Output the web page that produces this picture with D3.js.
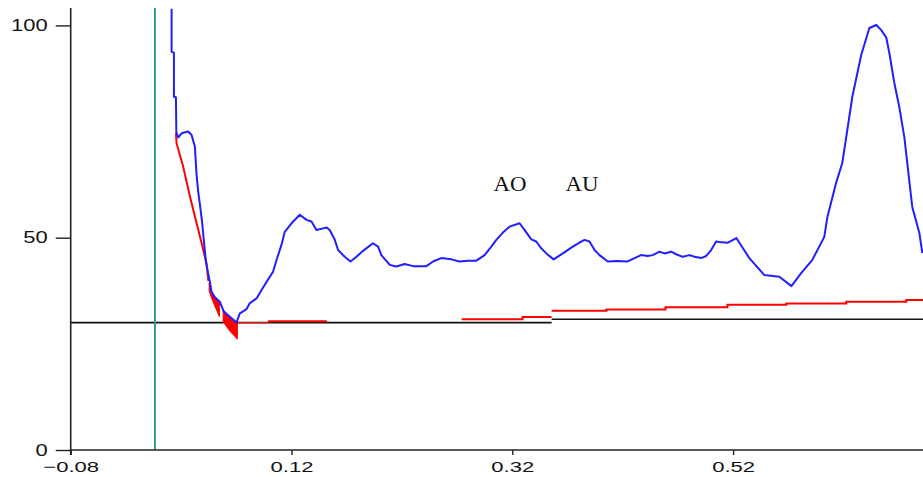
<!DOCTYPE html>
<html><head><meta charset="utf-8">
<script src="https://cdn.jsdelivr.net/npm/d3@7"></script>
<style>body{margin:0;background:#fff;} svg{display:block;}</style>
</head><body>
<svg id="chart" width="923" height="477"></svg>
<script>
// ---- data ----
const xTicks = [-0.08, 0.12, 0.32, 0.52];
const yTicks = [0, 50, 100];

const blueX = [0.0114,0.0114,0.0135,0.0135,0.0153,0.0157,0.0174,0.0205,0.0264,0.0295,
0.0325,0.0340,0.0355,0.0373,0.0390,0.0408,0.0424,0.0445,0.0461,0.0476,
0.0506,0.0551,0.0587,0.0641,0.0702,0.0732,0.0793,0.0823,0.0883,0.0929,
0.0974,0.1033,0.1070,0.1109,0.1139,0.1200,0.1275,0.1336,0.1381,0.1426,
0.1486,0.1519,0.1546,0.1592,0.1622,0.1682,0.1734,0.1788,0.1848,0.1938,
0.1984,0.2014,0.2090,0.2150,0.2225,0.2301,0.2422,0.2482,0.2557,0.2648,
0.2723,0.2798,0.2874,0.2949,0.3010,0.3055,0.3115,0.3175,0.3266,0.3312,
0.3372,0.3417,0.3462,0.3508,0.3574,0.3658,0.3748,0.3824,0.3854,0.3899,
0.3945,0.3990,0.4065,0.4141,0.4246,0.4307,0.4367,0.4427,0.4472,0.4533,
0.4578,0.4639,0.4684,0.4744,0.4805,0.4850,0.4910,0.4956,0.5001,0.5046,
0.5076,0.5149,0.5230,0.5257,0.5347,0.5483,0.5619,0.5728,0.5818,0.5918,
0.6026,0.6054,0.6135,0.6189,0.6280,0.6361,0.6434,0.6497,0.6542,0.6588,
0.6615,0.6660,0.6705,0.6751,0.6823,0.6887,0.6914];
const blueY = [103.9,93.8,93.6,83.2,83.1,74.8,73.6,74.6,75.0,74.2,
71.4,64.8,60.8,57.3,53.7,48.8,44.5,41.6,39.6,37.2,
36.0,34.9,32.6,31.4,30.0,32.2,33.2,34.6,35.7,37.7,
39.6,42.0,45.2,48.3,51.4,53.4,55.4,54.2,53.8,51.8,
52.2,52.4,51.8,49.5,47.1,45.5,44.4,45.5,46.9,48.7,
47.9,45.9,43.6,43.2,43.8,43.3,43.3,44.4,45.2,44.9,
44.4,44.6,44.6,45.9,47.9,49.5,51.2,52.6,53.4,51.8,
49.6,49.1,47.5,46.3,44.9,46.3,47.9,49.1,49.5,49.1,
47.1,45.9,44.4,44.5,44.4,45.2,45.9,45.7,45.9,46.7,
46.3,46.7,46.1,45.5,45.9,45.5,45.2,45.7,47.1,49.1,
49.0,48.8,49.9,48.8,45.2,41.2,40.8,38.6,41.7,44.8,
50.2,54.9,63.1,67.6,83.2,93.1,99.4,100.1,98.9,97.1,
93.5,86.5,80.8,73.7,57.2,51.1,46.4];

const redDiagX = [0.0153,0.0159,0.0219,0.0280,0.0325,0.0386,0.0429,0.0447];
const redDiagY = [74.6,72.2,66.7,59.7,55.0,48.7,44.1,39.8];

const fill1X = [0.0454,0.0476,0.0506,0.0547];
const fill1Top = [39.3,37.2,36.0,35.0];
const fill1Bottom = [37.5,35.8,33.9,31.4];
const fill2X = [0.0581,0.0642,0.0710];
const fill2Top = [33.0,31.4,30.0];
const fill2Bottom = [30.2,28.0,26.1];

const redFlatAX = [0.0717,0.0988], redFlatAY = [30.0,30.0];
const redFlatBX = [0.0988,0.1520], redFlatBY = [30.3,30.3];

const base1X = [-0.08,0.3556], base1Y = [30.0,30.0];
const base2X = [0.3556,0.692], base2Y = [30.8,30.8];

const redStep1X = [0.2741,0.3293,0.3556];
const redStep1Y = [30.8,31.3,31.3];
const redStep2X = [0.3556,0.4053,0.4587,0.5148,0.5682,0.6225,0.6768,0.692];
const redStep2Y = [32.8,33.1,33.6,34.2,34.5,34.9,35.3,35.3];

const markerX = [-0.0037];

const labelText = ["AO","AU"];
const labelX = [0.3030,0.3682];
const labelY = [61.0,61.0];

// ---- drawing ----
const svg = d3.select("#chart");
const x = d3.scaleLinear().domain([-0.08, 0.692]).range([70.7, 923]);
const y = d3.scaleLinear().domain([0, 104.1]).range([450, 8]);

svg.append("defs").append("clipPath").attr("id","clip")
  .append("rect").attr("x",70.7).attr("y",8).attr("width",923-70.7).attr("height",442);

const plot = svg.append("g").attr("clip-path","url(#clip)");
const zip = (xs, ys) => xs.map((v,i)=>[v, ys[i]]);
const line = d3.line().x(d=>x(d[0])).y(d=>y(d[1]));
const stepLine = d3.line().x(d=>x(d[0])).y(d=>y(d[1])).curve(d3.curveStepAfter);

// baselines
[[base1X,base1Y],[base2X,base2Y]].forEach(([xs,ys])=>{
  plot.append("path").attr("d", line(zip(xs,ys)))
    .attr("fill","none").attr("stroke","#111").attr("stroke-width",1.6);
});

// red fills
const area = d3.area().x(d=>x(d[0])).y0(d=>y(d[2])).y1(d=>y(d[1]));
[[fill1X,fill1Top,fill1Bottom],[fill2X,fill2Top,fill2Bottom]].forEach(([xs,t,b])=>{
  plot.append("path").attr("d", area(xs.map((v,i)=>[v,t[i],b[i]])))
    .attr("fill","#ff0000").attr("stroke","#ff0000").attr("stroke-width",1);
});

// red lines
plot.append("path").attr("d", line(zip(redDiagX,redDiagY)))
  .attr("fill","none").attr("stroke","#ff0000").attr("stroke-width",2);
plot.append("path").attr("d", line(zip(redFlatAX,redFlatAY)))
  .attr("fill","none").attr("stroke","#ff0000").attr("stroke-width",1.3);
plot.append("path").attr("d", line(zip(redFlatBX,redFlatBY)))
  .attr("fill","none").attr("stroke","#ff0000").attr("stroke-width",2);
plot.append("path").attr("d", stepLine(zip(redStep1X,redStep1Y)))
  .attr("fill","none").attr("stroke","#ff0000").attr("stroke-width",2);
plot.append("path").attr("d", stepLine(zip(redStep2X,redStep2Y)))
  .attr("fill","none").attr("stroke","#ff0000").attr("stroke-width",2);

// teal marker
markerX.forEach(v=>{
  plot.append("line").attr("x1",x(v)).attr("x2",x(v)).attr("y1",y(104.1)).attr("y2",y(0))
    .attr("stroke","#2e9c98").attr("stroke-width",2);
});

// blue curve
plot.append("path").attr("d", line(zip(blueX,blueY)))
  .attr("fill","none").attr("stroke","#1f1fff").attr("stroke-width",2).attr("stroke-linejoin","round");

// axes
const xAxis = svg.append("g").attr("transform","translate(0,450)")
  .call(d3.axisBottom(x).tickValues(xTicks).tickSize(5).tickPadding(6).tickFormat(d3.format(".2f")));
const yAxis = svg.append("g").attr("transform","translate(70.7,0)")
  .call(d3.axisLeft(y).tickValues(yTicks).tickSize(15).tickPadding(8).tickFormat(d3.format("d")));
[xAxis,yAxis].forEach(g=>{
  g.select(".domain").attr("stroke","#222").attr("stroke-width",1.6);
  g.selectAll(".tick line").attr("stroke","#222").attr("stroke-width",1.4);
  g.selectAll("text").attr("fill","#111").attr("font-family","'Liberation Sans', Arial, sans-serif");
});
xAxis.selectAll("text").attr("font-size",15);
yAxis.selectAll("text").attr("font-size",16);
// y axis domain without outer ticks (plain vertical line)
yAxis.select(".domain").attr("d","M0,8V455");
xAxis.select(".domain").attr("d","M70.7,0H923");

// horizontally widened glyphs, as in the reference
function stretch(sel, factor){
  sel.each(function(){
    const w = this.getComputedTextLength();
    d3.select(this).attr("textLength", w*factor).attr("lengthAdjust","spacingAndGlyphs");
  });
}
stretch(xAxis.selectAll("text"), 1.47);
stretch(yAxis.selectAll("text"), 1.37);

// annotations
svg.append("g").selectAll("text").data(labelText).join("text")
  .attr("x",(d,i)=>x(labelX[i])).attr("y",(d,i)=>y(labelY[i]))
  .attr("font-family","'Liberation Serif','Times New Roman',serif").attr("font-size",20)
  .attr("fill","#111").text(d=>d)
  .each(function(){ d3.select(this).attr("textLength",33).attr("lengthAdjust","spacingAndGlyphs"); });
</script>
</body></html>
